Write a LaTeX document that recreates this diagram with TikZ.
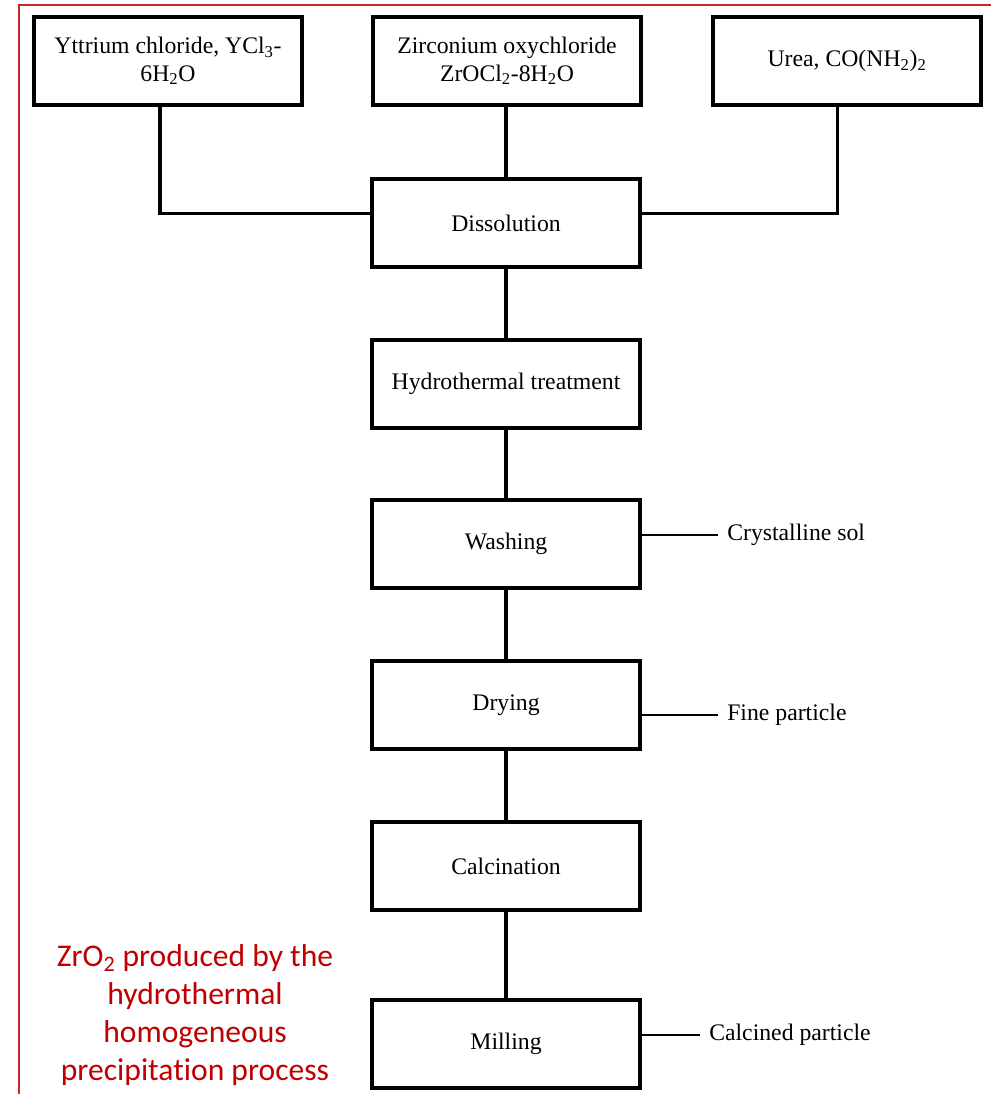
\documentclass[tikz,border=0pt]{standalone}
\usepackage{fontspec}
\setmainfont{Liberation Serif}
\newfontfamily\notefont[Ligatures={NoCommon,NoContextual},RawFeature={-liga;-clig;-dlig}]{Carlito}
\usepackage{xcolor}
\usepackage{tikz}
\definecolor{notered}{HTML}{C00000}
\definecolor{framered}{HTML}{C8262B}

\begin{document}
\begin{tikzpicture}[x=0.75pt, y=-0.75pt,
  box/.style={draw, rectangle, line width=2.6pt, minimum width=201pt, minimum height=66pt, align=center, font=\fontsize{17.8}{20.5}\selectfont},
  sidelbl/.style={anchor=west, inner xsep=6.75pt, inner ysep=0pt, font=\fontsize{17.8}{20.5}\selectfont},
  link/.style={line width=2.4pt},
  sidelink/.style={line width=2pt}]
  \useasboundingbox (0,0) rectangle (991,1094);

  % Frame
  \draw[framered, line width=1.5pt] (19,1094) -- (19,5) -- (991,5);

  % Starting materials
  \node[box] (ytt) at (168,61) {Yttrium chloride, YCl\textsubscript{3}-\\6H\textsubscript{2}O};
  \node[box] (zir) at (507,61) {Zirconium oxychloride\\ZrOCl\textsubscript{2}-8H\textsubscript{2}O};
  \node[box] (urea) at (847,61) {Urea, CO(NH\textsubscript{2})\textsubscript{2}};

  % Process steps
  \node[box] (diss) at (506,223) {Dissolution};
  \node[box] (hydro) at (506,384) {Hydrothermal treatment};
  \node[box] (wash) at (506,544) {Washing};
  \node[box] (dry) at (506,705) {Drying};
  \node[box] (calc) at (506,866) {Calcination};
  \node[box] (mill) at (506,1044) {Milling};

  % Products
  \node[sidelbl] (sol) at (718,535) {Crystalline sol};
  \node[sidelbl] (fine) at (718,715) {Fine particle};
  \node[sidelbl] (calcp) at (700,1035) {Calcined particle};

  % Caption
  \node[text=notered, align=center, font=\notefont\fontsize{23.7}{28.5}\selectfont] (note) at (195,1015)
    {ZrO\textsubscript{2} produced by the\\hydrothermal\\homogeneous\\precipitation process};

  % Connections
  \draw[link] ([xshift=-6pt]ytt.south) |- ([yshift=7pt]diss.west);
  \draw[link] ([xshift=-7pt]urea.south) |- ([yshift=7pt]diss.east);
  \draw[link] (zir.south -| diss.north) -- (diss.north);
  \draw[link] (diss) -- (hydro);
  \draw[link] (hydro) -- (wash);
  \draw[link] (wash) -- (dry);
  \draw[link] (dry) -- (calc);
  \draw[link] (calc) -- (mill);
  \draw[sidelink] (sol.west) -- (sol.west -| wash.east);
  \draw[sidelink] (fine.west) -- (fine.west -| dry.east);
  \draw[sidelink] (calcp.west) -- (calcp.west -| mill.east);
\end{tikzpicture}
\end{document}
